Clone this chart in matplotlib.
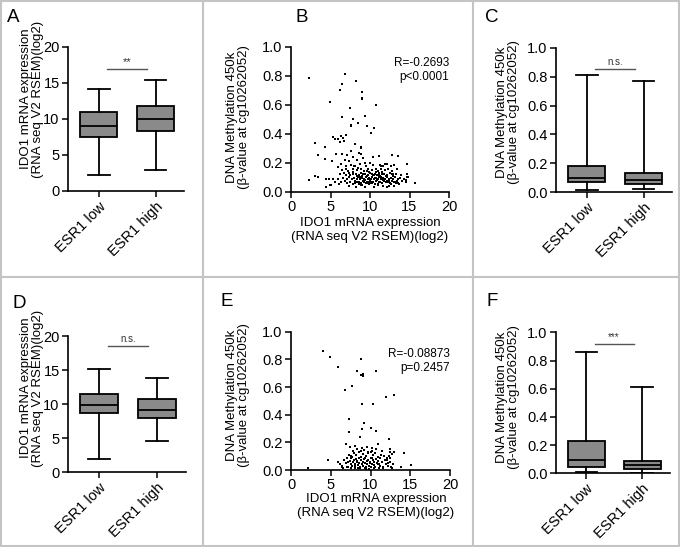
import matplotlib.pyplot as plt
from matplotlib.lines import Line2D

plt.rcParams['font.family'] = ['Liberation Sans', 'DejaVu Sans']

groups = ['ESR1 low', 'ESR1 high']

# box stats: whisker low, q1, median, q3, whisker high
A_low = [2.2, 7.45, 9.0, 11.0, 14.2]
A_high = [2.9, 8.4, 9.95, 11.8, 15.45]
C_low = [0.016, 0.074, 0.099, 0.18, 0.811]
C_high = [0.021, 0.06, 0.088, 0.131, 0.77]
D_low = [1.9, 8.7, 9.8, 11.5, 15.1]
D_high = [4.5, 7.9, 9.1, 10.8, 13.8]
F_low = [0.007, 0.045, 0.092, 0.227, 0.857]
F_high = [0.005, 0.03, 0.058, 0.084, 0.611]

sig_A, sig_C, sig_D, sig_F = '**', 'n.s.', 'n.s.', '***'

# scatter B (IDO1 expression vs methylation, cohort 1)
B_x = [2.27, 6.85, 8.2, 6.47, 6.22, 9.0, 8.95, 9.05, 4.92, 10.76, 7.48, 9.37, 6.43, 7.82,
       8.49, 7.57, 7.6, 9.58, 10.5, 10.17, 5.26, 5.55, 5.97, 6.39, 6.6, 6.94, 6.26, 6.72,
       2.98, 4.32, 8.07, 8.83, 8.88,
       3.45, 4.29, 5.21, 5.7, 6.5, 6.8, 7.1, 7.4, 7.6, 7.9, 8.3, 8.6, 8.9, 9.1, 9.4, 10.0,
       10.4, 11.1, 12.78, 13.58, 14.67, 15.64, 14.7, 14.72, 14.6, 6.0, 6.3, 7.0, 8.0,
       11.3, 11.7, 12.1, 12.6,
       5.1, 6.02, 7.3, 8.2, 8.8, 9.4, 9.9, 10.5, 11.0, 11.6, 12.1, 12.6, 13.1, 13.7, 4.4, 4.9,
       5.6, 6.3, 6.8, 7.1, 7.5, 7.9, 8.1, 8.4, 8.6, 8.9, 9.1, 9.3, 9.6, 9.8, 10.0, 10.2, 10.4,
       10.6, 10.8, 11.1, 11.3, 11.5, 11.8, 12.0, 12.3, 12.5, 12.8, 13.0, 13.3, 13.6, 14.0,
       14.5, 2.3, 3.0, 3.4, 4.4, 4.8,
       5.3, 6.0, 6.6, 7.05, 7.3, 7.7, 8.0, 8.3, 8.5, 8.7, 9.0, 9.2, 9.5, 9.7, 9.9, 10.1, 10.3,
       10.5, 10.7, 10.9, 11.2, 11.4, 11.7, 11.9, 12.2, 12.4, 12.7, 12.9, 13.2, 13.5, 13.8,
       14.3, 14.8,
       6.2, 6.9, 7.4, 7.8, 8.2, 8.6, 8.8, 9.1, 9.4, 9.7, 10.0, 10.3, 10.6, 10.9, 11.2, 11.5,
       11.8, 12.1, 12.5, 12.9, 13.3, 13.9,
       6.5, 7.2, 7.9, 8.4, 8.9, 9.3, 9.8, 10.2, 10.7, 11.0, 11.4, 11.9, 12.3, 12.8, 13.4,
       6.35, 7.02, 7.65, 8.05, 8.7, 9.5, 10.4, 11.35, 11.85, 12.6, 13.1,
       8.3, 8.95, 9.25, 9.65, 10.05, 10.45, 10.85, 11.25, 11.65, 12.05, 12.45, 9.85, 10.25,
       10.75, 11.05, 9.45, 8.55, 12.85, 13.25, 11.55,
       8.15, 8.75, 9.35, 9.9, 10.35, 10.95, 11.45, 12.15, 9.05, 9.6, 10.15, 10.65, 11.15,
       7.45, 7.85, 8.45, 12.35, 12.75, 13.45, 6.75]
B_y = [0.782, 0.812, 0.763, 0.745, 0.703, 0.69, 0.637, 0.648, 0.617, 0.598, 0.575, 0.524,
       0.517, 0.503, 0.476, 0.462, 0.455, 0.451, 0.441, 0.403, 0.379, 0.363, 0.361, 0.386,
       0.368, 0.391, 0.341, 0.352, 0.338, 0.31, 0.331, 0.308, 0.3,
       0.253, 0.225, 0.21, 0.26, 0.262, 0.22, 0.25, 0.21, 0.28, 0.24, 0.22, 0.27, 0.26, 0.23,
       0.2, 0.2, 0.24, 0.248, 0.255, 0.248, 0.19, 0.062, 0.12, 0.1, 0.08, 0.17, 0.19, 0.16,
       0.18, 0.185, 0.175, 0.19, 0.18,
       0.045, 0.05, 0.04, 0.03, 0.045, 0.035, 0.05, 0.03, 0.045, 0.04, 0.03, 0.05, 0.04, 0.05,
       0.035, 0.045,
       0.07, 0.065, 0.075, 0.06, 0.07, 0.055, 0.075, 0.065, 0.07, 0.06, 0.075, 0.065, 0.07,
       0.06, 0.075, 0.065, 0.07, 0.055, 0.075, 0.065, 0.07, 0.06, 0.075, 0.065, 0.07, 0.06,
       0.075, 0.065, 0.07, 0.06, 0.075, 0.065, 0.08, 0.105, 0.1, 0.09, 0.09,
       0.09, 0.085, 0.095, 0.09, 0.1, 0.085, 0.095, 0.09, 0.1, 0.085, 0.095, 0.09, 0.1, 0.085,
       0.095, 0.09, 0.1, 0.085, 0.095, 0.09, 0.1, 0.085, 0.095, 0.09, 0.1, 0.085, 0.095, 0.09,
       0.1, 0.085, 0.095, 0.09, 0.1,
       0.12, 0.115, 0.13, 0.12, 0.125, 0.115, 0.13, 0.12, 0.125, 0.115, 0.13, 0.12, 0.125,
       0.115, 0.13, 0.12, 0.125, 0.115, 0.13, 0.12, 0.125, 0.115,
       0.15, 0.145, 0.155, 0.15, 0.16, 0.145, 0.155, 0.15, 0.16, 0.145, 0.155, 0.15, 0.16,
       0.145, 0.155,
       0.19, 0.175, 0.185, 0.18, 0.19, 0.175, 0.185, 0.18, 0.19, 0.175, 0.185,
       0.105, 0.11, 0.078, 0.108, 0.082, 0.112, 0.079, 0.107, 0.081, 0.109, 0.077, 0.135,
       0.058, 0.138, 0.052, 0.057, 0.052, 0.108, 0.057, 0.138,
       0.062, 0.102, 0.083, 0.067, 0.118, 0.088, 0.103, 0.072, 0.047, 0.142, 0.061, 0.093,
       0.117, 0.113, 0.137, 0.166, 0.042, 0.121, 0.074, 0.128]

# scatter E (cohort 2)
E_x = [3.99, 4.91, 5.91, 8.81, 8.34, 8.85, 9.0, 9.1, 10.69, 6.79, 7.71, 11.91, 12.99, 8.97,
       10.31, 7.33, 9.22,
       7.33, 8.89, 10.06, 10.65, 8.64, 12.33, 10.9, 6.88, 7.4, 8.0, 8.9, 9.5, 10.2, 4.7, 2.1,
       14.2, 15.1, 13.8, 12.3, 12.5, 12.9, 12.7,
       5.9, 6.2, 6.4, 6.7, 6.9, 7.1, 7.2, 7.4, 7.5, 7.6, 7.7, 7.8, 7.9, 8.0, 8.1, 8.2, 8.3, 8.4,
       8.5, 8.6, 8.7, 8.8, 8.9, 9.0, 9.1, 9.2, 9.3, 9.4, 9.5, 9.6, 9.7, 9.8, 9.9, 10.0, 10.1,
       10.2, 10.3, 10.4, 10.5, 10.6, 10.7, 10.8, 10.9, 11.0, 11.2, 11.4, 11.6, 11.8, 12.0,
       12.2, 12.4, 12.6, 12.8,
       7.3, 7.6, 7.9, 8.2, 8.5, 8.8, 9.1, 9.4, 9.7, 10.0, 10.3, 10.6, 10.9, 11.3, 11.7, 12.1,
       12.5, 8.05, 8.65, 9.25, 9.85, 10.45, 11.05,
       6.6, 7.0, 7.5, 8.0, 8.45, 8.95, 9.45, 9.95, 10.5, 11.1, 11.6, 12.2, 12.7,
       7.8, 8.3, 8.75, 9.2, 9.65, 10.15, 10.75, 11.5, 12.45,
       6.4, 7.15, 7.7, 8.35, 9.35, 10.25, 11.25, 12.05]
E_y = [0.86, 0.819, 0.742, 0.804, 0.713, 0.69, 0.695, 0.68, 0.713, 0.576, 0.607, 0.53, 0.542,
       0.479, 0.475, 0.369, 0.34,
       0.272, 0.293, 0.306, 0.284, 0.241, 0.224, 0.186, 0.186, 0.165, 0.17, 0.16, 0.168, 0.162,
       0.07, 0.017, 0.125, 0.036, 0.024, 0.1, 0.15, 0.13, 0.115,
       0.06, 0.04, 0.03, 0.075, 0.05, 0.09, 0.02, 0.065, 0.04, 0.085, 0.03, 0.055, 0.07, 0.02,
       0.045, 0.08, 0.06, 0.035, 0.09, 0.05, 0.025, 0.07, 0.04, 0.06, 0.03, 0.08, 0.05, 0.02,
       0.065, 0.04, 0.075, 0.03, 0.055, 0.085, 0.02, 0.045, 0.07, 0.035, 0.06, 0.025, 0.08,
       0.05, 0.04, 0.065, 0.03, 0.055, 0.02, 0.075, 0.045, 0.03, 0.06, 0.02, 0.04,
       0.11, 0.1, 0.12, 0.105, 0.13, 0.095, 0.115, 0.1, 0.12, 0.13, 0.105, 0.12, 0.095, 0.11,
       0.1, 0.09, 0.085, 0.015, 0.012, 0.018, 0.01, 0.015, 0.012,
       0.015, 0.025, 0.012, 0.035, 0.015, 0.045, 0.01, 0.05, 0.015, 0.04, 0.012, 0.05, 0.015,
       0.14, 0.15, 0.135, 0.145, 0.13, 0.14, 0.15, 0.14, 0.13,
       0.02, 0.055, 0.095, 0.065, 0.085, 0.09, 0.085, 0.07]

B_stats = ['R=-0.2693', 'p<0.0001']
E_stats = ['R=-0.08873', 'p=0.2457']

ylab_ido = 'IDO1 mRNA expression\n(RNA seq V2 RSEM)(log2)'
ylab_met = 'DNA Methylation 450k\n(\u03b2-value at cg10262052)'

W, H = 680, 547
fig = plt.figure(figsize=(W / 100, H / 100), dpi=100)


def axes_px(l, t, r, b):
    return fig.add_axes([l / W, 1 - b / H, (r - l) / W, (b - t) / H])


def style(ax):
    for s in ['top', 'right']:
        ax.spines[s].set_visible(False)
    for s in ['left', 'bottom']:
        ax.spines[s].set_linewidth(1.2)
    ax.tick_params(direction='out', length=4, width=1.1, labelsize=10.5, pad=2)


def boxpanel(ax, low, high, ymax, yticks, sig, sig_y, sig_fs):
    stats = []
    for v, lab in zip([low, high], groups):
        stats.append(dict(whislo=v[0], q1=v[1], med=v[2], q3=v[3], whishi=v[4], label=lab))
    ax.bxp(stats, positions=[1, 2], widths=0.66, patch_artist=True, showfliers=False,
           capwidths=0.38,
           boxprops=dict(facecolor='#8a8a8a', edgecolor='black', linewidth=1.3),
           medianprops=dict(color='black', linewidth=1.3),
           whiskerprops=dict(color='black', linewidth=1.3),
           capprops=dict(color='black', linewidth=1.3))
    ax.set_xlim(0.46, 2.5)
    ax.set_ylim(0, ymax)
    ax.set_yticks(yticks)
    style(ax)
    plt.setp(ax.get_xticklabels(), rotation=45, ha='right', rotation_mode='anchor')
    ax.plot([1.15, 1.85], [sig_y, sig_y], color='#555555', lw=1.0, clip_on=False)
    ax.text(1.5, sig_y + ymax * 0.015, sig, ha='center', va='bottom', fontsize=sig_fs,
            color='#333333')


def scatterpanel(ax, x, y, stats, ty):
    ax.scatter(x, y, s=3.2, marker='s', color='black', linewidths=0, clip_on=False)
    ax.set_xlim(0, 20)
    ax.set_ylim(0, 1)
    ax.set_xticks([0, 5, 10, 15, 20])
    ax.set_yticks([0, 0.2, 0.4, 0.6, 0.8, 1.0])
    ax.set_yticklabels(['0.0', '0.2', '0.4', '0.6', '0.8', '1.0'])
    style(ax)
    ax.text(20, ty, stats[0] + '\n' + stats[1], ha='right', va='top', fontsize=8.5,
            linespacing=1.2)


axA = axes_px(68, 47, 184, 191)
boxpanel(axA, A_low, A_high, 20, [0, 5, 10, 15, 20], sig_A, 16.9, 8)
axB = axes_px(291, 46.7, 449, 191.7)
scatterpanel(axB, B_x, B_y, B_stats, 0.93)
axC = axes_px(556, 47.7, 672, 192.3)
boxpanel(axC, C_low, C_high, 1.0, [0, 0.2, 0.4, 0.6, 0.8, 1.0], sig_C, 0.85, 7)
axC.set_yticklabels(['0.0', '0.2', '0.4', '0.6', '0.8', '1.0'])

axD = axes_px(68, 336, 186, 472)
boxpanel(axD, D_low, D_high, 20, [0, 5, 10, 15, 20], sig_D, 18.5, 7)
axE = axes_px(291, 331.7, 450, 470)
scatterpanel(axE, E_x, E_y, E_stats, 0.88)
axF = axes_px(556, 332.3, 670, 473.3)
boxpanel(axF, F_low, F_high, 1.0, [0, 0.2, 0.4, 0.6, 0.8, 1.0], sig_F, 0.915, 7)
axF.set_yticklabels(['0.0', '0.2', '0.4', '0.6', '0.8', '1.0'])


def ftext(x, y, s, **kw):
    fig.text(x / W, 1 - y / H, s, **kw)


lab = dict(rotation=90, ha='center', va='center', multialignment='center', fontsize=9.5,
           linespacing=1.05)
ftext(32, 99, ylab_ido, **lab)
ftext(32, 388, ylab_ido, **lab)
ftext(238, 117, ylab_met, **lab)
ftext(238, 395, ylab_met, **lab)
ftext(508, 112, ylab_met, **lab)
ftext(508, 397, ylab_met, **lab)
ftext(370, 230, ylab_ido, ha='center', va='center', multialignment='center', fontsize=9.5,
      linespacing=1.15)
ftext(376, 506, ylab_ido, ha='center', va='center', multialignment='center', fontsize=9.5,
      linespacing=1.15)

for letter, (x, y) in zip('ABCDEF', [(13, 17), (302, 18), (492, 17), (19, 303), (227, 302),
                                     (492, 302)]):
    ftext(x, y, letter, ha='center', va='center', fontsize=13.5)

# panel frame lines
grey = '#c4c4c4'
for xs, ys in [([1, 679], [1, 1]), ([1, 679], [546, 546]), ([1, 1], [1, 546]),
               ([679, 679], [1, 546]), ([203, 203], [1, 546]), ([473, 473], [1, 546]),
               ([1, 679], [277, 277])]:
    fig.add_artist(Line2D([x / W for x in xs], [1 - y / H for y in ys], color=grey, lw=1.5))

fig.savefig('out.png', dpi=100)
